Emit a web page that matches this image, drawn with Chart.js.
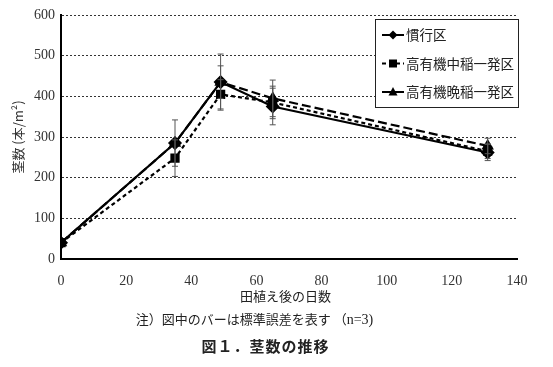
<!DOCTYPE html>
<html>
<head>
<meta charset="utf-8">
<script src="https://cdn.jsdelivr.net/npm/chart.js@4"></script>
<style>
  html, body { margin: 0; padding: 0; background: #fff; }
  #wrap { position: relative; width: 553px; height: 367px; }
  #c { position: absolute; left: 0; top: 0; }
  .cap { position: absolute; left: 0; width: 553px; text-align: center; color: #222; white-space: nowrap; }
  #xt { top: 286px; left: 9px; font: 13px "Noto Sans CJK JP"; }
  #note { top: 309px; left: -22px; font: 13px "Noto Sans CJK JP"; }
  #note span { font-family: "Liberation Serif", serif; font-size: 14px; }
  #fig { top: 335px; left: -11px; font: bold 15px "Noto Sans CJK JP"; letter-spacing: 1px; }
</style>
</head>
<body>
<div id="wrap">
  <canvas id="c" width="553" height="367"></canvas>
  <div class="cap" id="xt">田植え後の日数</div>
  <div class="cap" id="note">注）図中のバーは標準誤差を表す （<span>n=3)</span></div>
  <div class="cap" id="fig">図１．茎数の推移</div>
</div>
<script>
const days = [0, 35, 49, 65, 131];
const seriesNames = ['慣行区', '高有機中稲一発区', '高有機晩稲一発区'];
const kanko = [40, 285, 435, 375, 262];
const kankoErr = [0, 0, 40, 45, 20];
const chuto = [40, 248, 405, 385, 265];
const chutoErr = [0, 45, 36, 40, 18];
const banto = [40, 285, 435, 395, 278];
const bantoErr = [0, 57, 69, 45, 19];
const xTicks = [0, 20, 40, 60, 80, 100, 120, 140];
const yTicks = [0, 100, 200, 300, 400, 500, 600];

function pts(vals) {
  return days.map((d, i) => ({ x: d, y: vals[i] }));
}

const errorBars = {
  id: 'errorBars',
  afterDatasetsDraw(chart) {
    const ctx = chart.ctx;
    const xs = chart.scales.x, ys = chart.scales.y;
    ctx.save();
    ctx.strokeStyle = '#555';
    ctx.lineWidth = 1;
    chart.data.datasets.forEach(ds => {
      ds.data.forEach((p, i) => {
        const e = ds.err[i];
        if (!e) return;
        const x = xs.getPixelForValue(p.x);
        const y1 = ys.getPixelForValue(p.y + e);
        const y2 = ys.getPixelForValue(p.y - e);
        ctx.beginPath();
        ctx.moveTo(x, y1); ctx.lineTo(x, y2);
        ctx.moveTo(x - 3, y1); ctx.lineTo(x + 3, y1);
        ctx.moveTo(x - 3, y2); ctx.lineTo(x + 3, y2);
        ctx.stroke();
      });
    });
    ctx.restore();
  }
};

const boxLegend = {
  id: 'boxLegend',
  afterDraw(chart) {
    const ctx = chart.ctx;
    ctx.save();
    ctx.fillStyle = '#fff';
    ctx.fillRect(375, 19, 143, 88);
    ctx.strokeStyle = '#222';
    ctx.lineWidth = 1;
    ctx.strokeRect(375.5, 19.5, 143, 88);
    chart.data.datasets.forEach((ds, i) => {
      const y = 35 + i * 28.5;
      ctx.strokeStyle = '#000';
      ctx.lineWidth = 2;
      ctx.setLineDash(ds.borderDash || []);
      ctx.beginPath();
      ctx.moveTo(382, y); ctx.lineTo(404, y);
      ctx.stroke();
      ctx.setLineDash([]);
      ctx.fillStyle = '#000';
      ctx.beginPath();
      if (ds.pointStyle === 'rectRot') {
        ctx.moveTo(393, y - 4.5); ctx.lineTo(397.5, y); ctx.lineTo(393, y + 4.5); ctx.lineTo(388.5, y);
      } else if (ds.pointStyle === 'rect') {
        ctx.rect(389, y - 4, 8, 8);
      } else {
        ctx.moveTo(393, y - 5); ctx.lineTo(397.5, y + 3.5); ctx.lineTo(388.5, y + 3.5);
      }
      ctx.closePath();
      ctx.fill();
      ctx.font = '13.5px "Noto Sans CJK JP"';
      ctx.textBaseline = 'middle';
      ctx.fillStyle = '#222';
      ctx.fillText(ds.label, 406, y);
    });
    ctx.restore();
  }
};

const serif = { family: '"Liberation Serif", "DejaVu Serif", serif', size: 14 };

new Chart(document.getElementById('c'), {
  type: 'line',
  data: {
    datasets: [
      { label: seriesNames[0], data: pts(kanko), err: kankoErr, borderColor: '#000', backgroundColor: '#000',
        borderWidth: 2.2, pointStyle: 'rectRot', pointRadius: 5.5 },
      { label: seriesNames[1], data: pts(chuto), err: chutoErr, borderColor: '#000', backgroundColor: '#000',
        borderWidth: 2.2, borderDash: [4, 3], pointStyle: 'rect', pointRadius: 5 },
      { label: seriesNames[2], data: pts(banto), err: bantoErr, borderColor: '#000', backgroundColor: '#000',
        borderWidth: 2.2, borderDash: [9, 4], pointStyle: 'triangle', pointRadius: 5 }
    ]
  },
  options: {
    responsive: false,
    animation: false,
    layout: { padding: { top: 15, right: 36, left: 0, bottom: 0 } },
    plugins: { legend: { display: false }, tooltip: { enabled: false } },
    scales: {
      x: {
        type: 'linear', min: 0, max: 140,
        afterBuildTicks: s => { s.ticks = xTicks.map(v => ({ value: v })); },
        afterFit: s => { s.height = 108; },
        grid: { display: false },
        border: { display: true, color: '#000', width: 2 },
        ticks: { color: '#333', font: serif, padding: 6, maxRotation: 0 }
      },
      y: {
        min: 0, max: 600,
        afterBuildTicks: s => { s.ticks = yTicks.map(v => ({ value: v })); },
        afterFit: s => { s.width = 61; },
        grid: { color: '#333', lineWidth: 1, drawTicks: false },
        border: { display: true, color: '#000', width: 2, dash: [2, 2] },
        ticks: { color: '#333', font: serif, padding: 6 },
        title: { display: true, text: '茎数 (本/m²)', color: '#333',
          font: { family: '"Noto Sans CJK JP"', size: 13 }, padding: { top: 10, bottom: 0 } }
      }
    }
  },
  plugins: [errorBars, boxLegend]
});
</script>
</body>
</html>
